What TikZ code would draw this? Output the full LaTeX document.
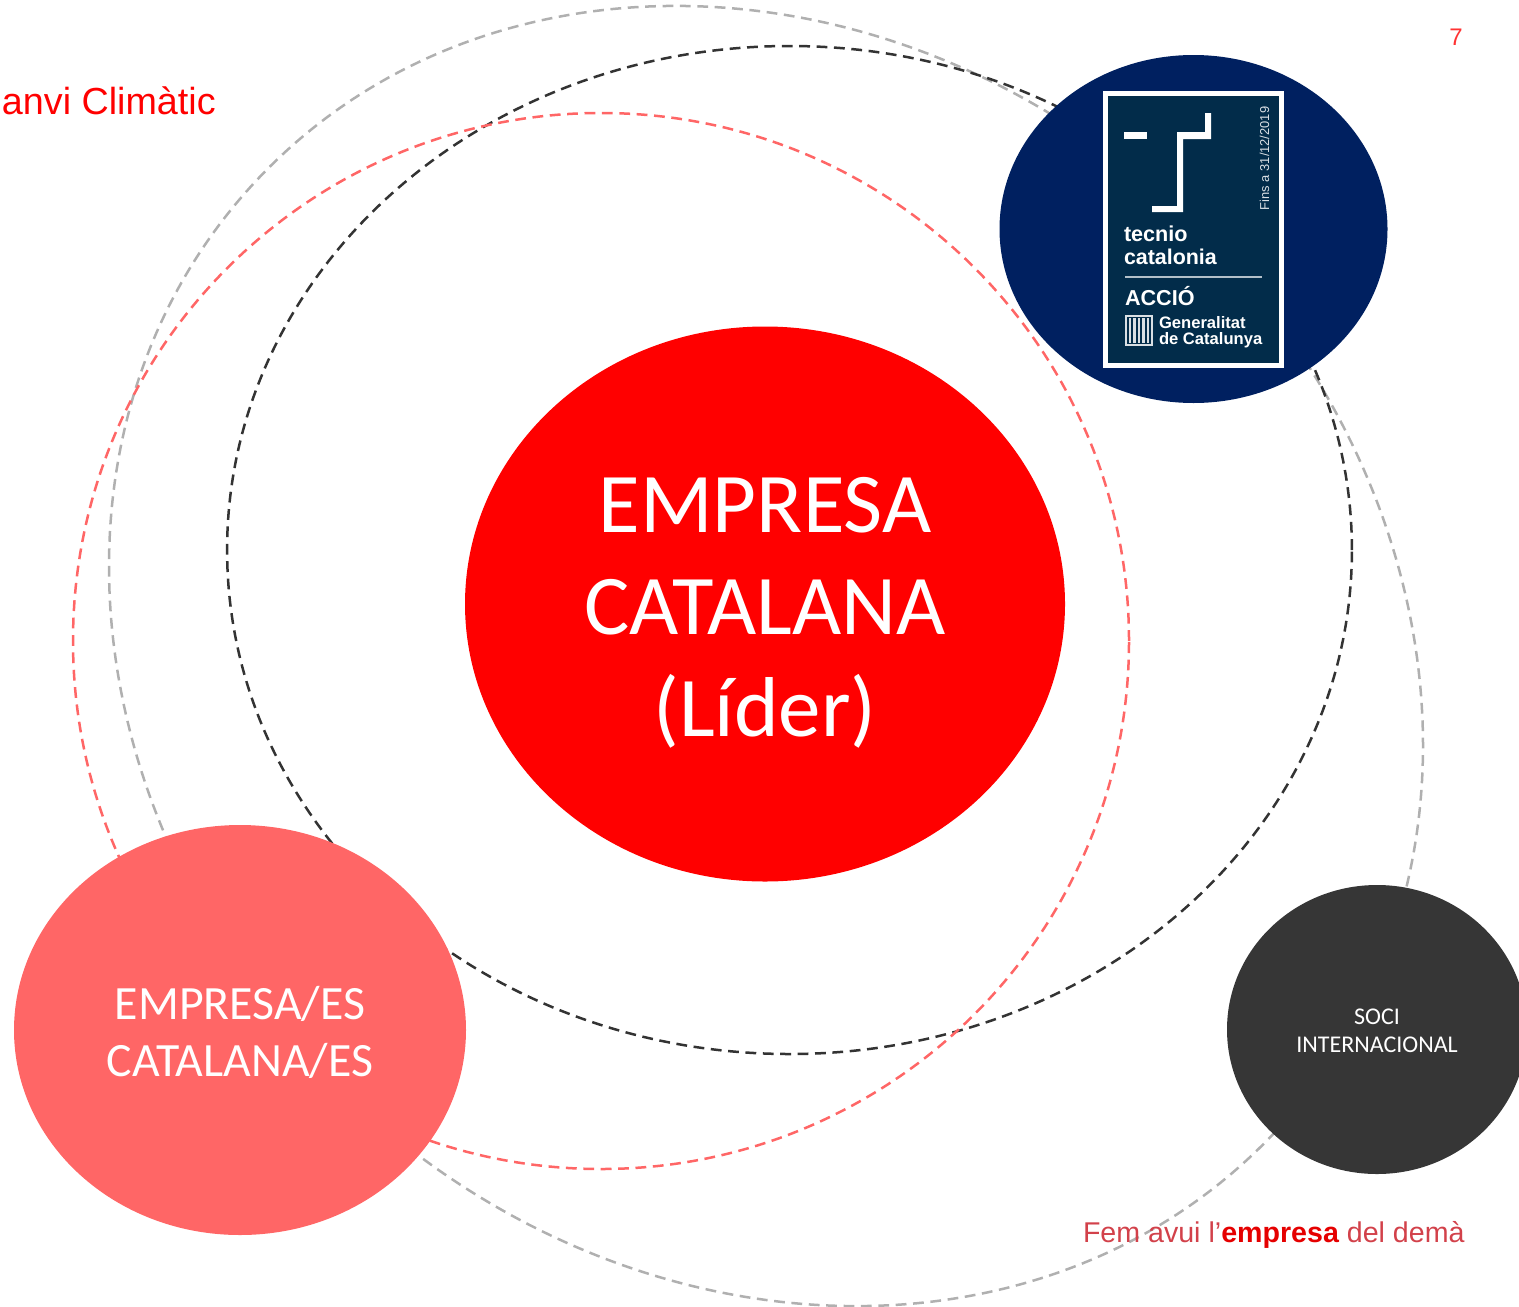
\documentclass[tikz,border=0pt]{standalone}
\usepackage{fontspec}
\setmainfont{Liberation Sans}
\newfontfamily\carl{Carlito}
\definecolor{redmain}{HTML}{FF0000}
\definecolor{pinkc}{HTML}{FF6666}
\definecolor{navyc}{HTML}{002060}
\definecolor{darkc}{HTML}{363636}
\definecolor{logoc}{HTML}{022C4A}
\definecolor{greyd}{HTML}{B0B0B0}
\definecolor{blackd}{HTML}{333333}
\definecolor{tagc}{HTML}{D2414A}
\newcommand{\fs}[2]{\fontsize{#1pt}{#2pt}\selectfont}
\usetikzlibrary{shapes.geometric}
\tikzset{
  x=0.5pt,y=-0.5pt,
  ring/.style={dash pattern=on 5.4pt off 3.3pt,line width=1.25pt,fill=none},
  disc/.style={ellipse,inner sep=0pt,outer sep=0pt},
  plain/.style={inner sep=0pt,outer sep=0pt},
  whitetxt/.style={plain,text=white,align=center},
  logotxt/.style={plain,text=white,anchor=base west},
  logomark/.style={fill=white,draw=none},
}
\begin{document}
\begin{tikzpicture}
\useasboundingbox (0,0) rectangle (1519,1306);
% dashed rings
\draw[ring,draw=greyd] (766,656) circle[x radius=348.5pt,y radius=303.5pt,rotate=-42.8];
\draw[ring,draw=blackd] (789.5,550) circle[x radius=281.2pt,y radius=252pt];
\draw[ring,draw=pinkc] (601,641) circle[x radius=264pt,y radius=264pt];
% discs
\node[disc,fill=redmain,minimum width=300pt,minimum height=277.5pt] (lider) at (765,604) {};
\node[disc,fill=navyc,minimum width=194pt,minimum height=174pt] (tecnio) at (1193.5,229) {};
\node[disc,fill=pinkc,minimum width=226pt,minimum height=205pt] (cat) at (240,1030) {};
\node[disc,fill=darkc,minimum width=150pt,minimum height=144.5pt] (soci) at (1377,1029.5) {};
% disc labels
\node[whitetxt,font=\carl\fs{42.5}{51}] (liderT) at (765,613) {EMPRESA\\CATALANA\\(Líder)};
\node[whitetxt,font=\carl\fs{23.9}{28.5}] (catT) at (240,1032) {EMPRESA/ES\\CATALANA/ES};
\node[whitetxt,font=\carl\fs{12}{14}] (sociT) at (1377,1031) {SOCI\\INTERNACIONAL};
% logo
\fill[white] (1103,91) rectangle (1284,368);
\fill[logoc] (1108,96) rectangle (1279,363);
\fill[logomark] (1124,132) rectangle (1147,139);
\fill[logomark] (1205,113) -- (1211,113) -- (1211,139) -- (1183,139) -- (1183,212) -- (1152,212) -- (1152,206) -- (1177,206) -- (1177,132) -- (1205,132) -- cycle;
\node[logotxt,font=\bfseries\fs{10.8}{12}] (t1) at (1124,241) {tecnio};
\node[logotxt,font=\bfseries\fs{10.7}{12}] (t2) at (1124,264) {catalonia};
\draw[color=white!70!logoc,line width=0.7pt] (1125,277) -- (1262,277);
\node[logotxt,font=\bfseries\fs{10.8}{12}] (t3) at (1125,305) {ACCIÓ};
\node[logotxt,font=\bfseries\fs{8.3}{9}] (t4) at (1159,328) {Generalitat};
\node[logotxt,font=\bfseries\fs{8.3}{9}] (t5) at (1159,344) {de Catalunya};
\node[plain,text=white!85!logoc,rotate=90,anchor=base west,font=\fs{6.45}{7}] (t6) at (1269,210) {Fins a 31/12/2019};
\fill[white!85!logoc] (1125,315) rectangle (1153,346);
\fill[logoc] (1127,317) rectangle (1151,344);
\foreach \bx in {1130,1134.5,1139,1143.5,1148}{\fill[white!85!logoc] (\bx-1.2,318) rectangle (\bx+1.2,343);}
% corner texts
\node[plain,text=redmain,anchor=base west,font=\fs{18.85}{22}] (clim) at (2,114) {anvi Climàtic};
\node[plain,text=redmain!80!white,anchor=base,font=\fs{12}{14}] (pg) at (1456,45) {7};
\node[plain,text=tagc,anchor=base west,font=\fs{14.3}{18}] (tag) at (1083,1242) {Fem avui l'\textbf{\textcolor{red!90!black}{empresa}} del demà};
\end{tikzpicture}
\end{document}
